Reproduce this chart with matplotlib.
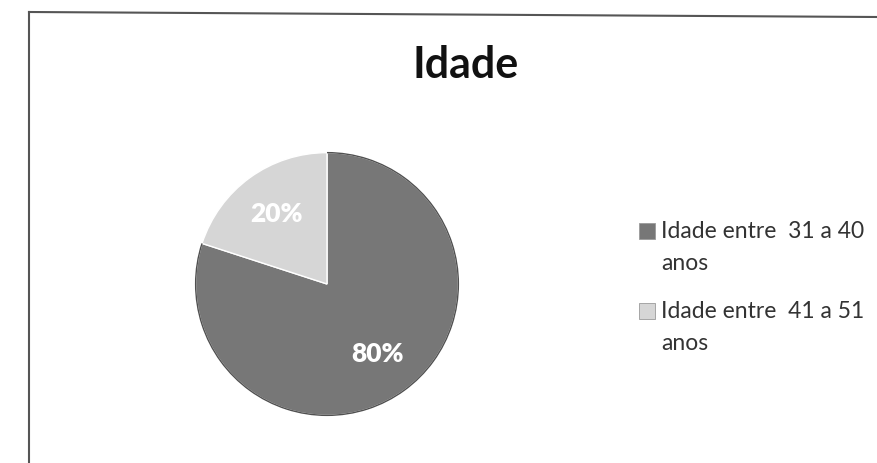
import matplotlib
matplotlib.use("Agg")
import matplotlib.pyplot as plt
from matplotlib.patches import Rectangle, Arc
from matplotlib.lines import Line2D

# Age distribution
categories = ["Idade entre  31 a 40\nanos", "Idade entre  41 a 51\nanos"]
shares = [80, 20]
colors = ["#777777", "#d6d6d6"]
title = "Idade"

W, H = 877, 463
plt.rcParams["font.family"] = ["Lato", "DejaVu Sans"]

fig = plt.figure(figsize=(W / 100, H / 100), dpi=100)
fig.patch.set_facecolor("white")


def fx(px):
    return px / W


def fy(py):
    return 1 - py / H


# Chart frame (top and left edges visible)
fig.add_artist(Line2D([fx(29), fx(877)], [fy(12), fy(17)], color="#555555", lw=1.5))
fig.add_artist(Line2D([fx(29), fx(29)], [fy(12), fy(463)], color="#555555", lw=1.5))

# Pie
cx, cy, r = 327, 284, 134
ax = fig.add_axes([fx(cx - r), fy(cy + r), 2 * r / W, 2 * r / H])
wedges, _, autotexts = ax.pie(
    shares,
    colors=colors,
    startangle=90,
    counterclock=False,
    autopct="%d%%",
    pctdistance=0.66,
    wedgeprops=dict(edgecolor="white", linewidth=1.0),
    textprops=dict(color="white", fontsize=19, fontweight="heavy"),
)
ax.set_xlim(-1.02, 1.02)
ax.set_ylim(-1.02, 1.02)
ax.set_aspect("equal")
ax.axis("off")

# Darker rim on the large slice
w0 = wedges[0]
ax.add_patch(Arc((0, 0), 2, 2, theta1=w0.theta1, theta2=w0.theta2,
                 color="#505050", lw=1.0))

# Title
fig.text(fx(466), fy(78), title, ha="center", va="baseline",
         fontsize=31, fontweight="bold", color="#111111")

# Legend
legend_rows = [238, 318]
for label, color, base in zip(categories, colors, legend_rows):
    fig.add_artist(Rectangle((fx(639), fy(base + 1)), 16 / W, 16 / H,
                             facecolor=color, edgecolor="#9a9a9a", lw=0.6,
                             transform=fig.transFigure))
    first, second = label.split("\n")
    fig.text(fx(661), fy(base), first, ha="left", va="baseline",
             fontsize=16.5, color="#333333")
    fig.text(fx(661), fy(base + 32), second, ha="left", va="baseline",
             fontsize=16.5, color="#333333")

fig.savefig("out.png", dpi=100, facecolor="white")
